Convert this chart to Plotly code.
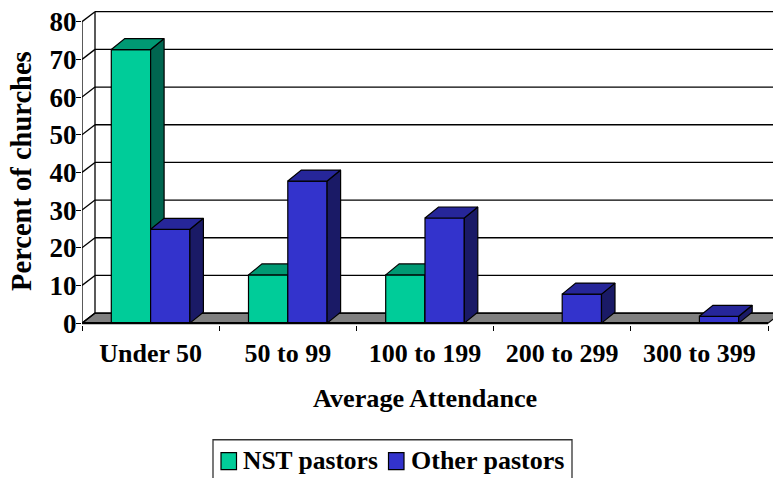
import plotly.graph_objects as go

categories = ["Under 50", "50 to 99", "100 to 199", "200 to 299", "300 to 399"]
nst_pastors = [72.6, 12.8, 12.8, 0, 0]
other_pastors = [24.9, 37.7, 27.9, 7.7, 1.8]
y_ticks = [0, 10, 20, 30, 40, 50, 60, 70, 80]

W, H = 773, 478
L, T, BOT = 82, 8, 325.2
UNIT_X, UNIT_Y = 137.2, 3.77
X_RANGE = [-0.5, -0.5 + (W - L) / UNIT_X]
Y_RANGE = [-0.5, (323.3 - T) / UNIT_Y]
WALL_DX, WALL_DY = 13 / UNIT_X, 10 / UNIT_Y
BAR_DX, BAR_DY = 13.5 / UNIT_X, 11 / UNIT_Y
BAR_W = 39.3 / UNIT_X
FONT = dict(family="Liberation Serif", color="black", weight=700)
GREEN, GREEN_SIDE, GREEN_TOP = "#00CC99", "#006650", "#009973"
BLUE, BLUE_SIDE, BLUE_TOP = "#3333CC", "#1A1A66", "#262699"


def px(x):
    return (x - L) / (W - L)


def py(y):
    return 1 - (y - T) / (BOT - T)


def faces(values, offset):
    side_x, side_y, top_x, top_y = [], [], [], []
    for i, v in enumerate(values):
        if not v:
            continue
        xl = i + offset
        xr = xl + BAR_W
        side_x += [xr, xr + BAR_DX, xr + BAR_DX, xr, xr, None]
        side_y += [0, BAR_DY, v + BAR_DY, v, 0, None]
        top_x += [xl, xl + BAR_DX, xr + BAR_DX, xr, xl, None]
        top_y += [v, v + BAR_DY, v + BAR_DY, v, v, None]
    return side_x, side_y, top_x, top_y


def add_series(fig, name, values, offset, front, side, top, xa, ya):
    idx = list(range(len(values)))
    fig.add_trace(go.Bar(x=idx, y=[v if v else None for v in values], name=name, width=BAR_W, offset=offset,
                         marker=dict(color=front, line=dict(color="black", width=1.2)),
                         xaxis=xa, yaxis=ya, showlegend=False))
    sx, sy, tx, ty = faces(values, offset)
    for fx, fy, color in ((sx, sy, side), (tx, ty, top)):
        fig.add_trace(go.Scatter(x=fx, y=fy, mode="lines", fill="toself", fillcolor=color,
                                 line=dict(color="black", width=1.2), hoverinfo="skip",
                                 xaxis=xa, yaxis=ya, showlegend=False))


fig = go.Figure()
add_series(fig, "NST pastors", nst_pastors, -BAR_W, GREEN, GREEN_SIDE, GREEN_TOP, "x", "y")
add_series(fig, "Other pastors", other_pastors, 0, BLUE, BLUE_SIDE, BLUE_TOP, "x2", "y2")

line = dict(color="black", width=1.3)
shapes = [
    dict(type="path", xref="x", yref="y", layer="below", fillcolor="#808080", line=dict(color="black", width=1.2),
         path=f"M{X_RANGE[0]},0 L{X_RANGE[0]+WALL_DX},{WALL_DY} L{4.5+WALL_DX},{WALL_DY} L4.5,0 Z"),
    dict(type="line", xref="x", yref="y", layer="below", line=line,
         x0=-0.5, x1=-0.5, y0=0, y1=80),
    dict(type="line", xref="x", yref="y", layer="below", line=line,
         x0=-0.5 + WALL_DX, x1=-0.5 + WALL_DX, y0=WALL_DY, y1=80 + WALL_DY),
]
for t in y_ticks:
    shapes.append(dict(type="line", xref="x", yref="y", layer="below", line=line,
                       x0=-0.5, x1=-0.5 + WALL_DX, y0=t, y1=t + WALL_DY))
    shapes.append(dict(type="line", xref="x", yref="y", layer="below", line=line,
                       x0=-0.5 + WALL_DX, x1=X_RANGE[1], y0=t + WALL_DY, y1=t + WALL_DY))
shapes.append(dict(type="line", xref="x", yref="y", layer="above", line=dict(color="black", width=2.2),
                   x0=-0.5, x1=4.5, y0=0, y1=0))
# legend frame and swatches
shapes.append(dict(type="rect", xref="paper", yref="paper", x0=px(213), x1=px(572), y0=py(440), y1=py(500),
                   fillcolor="white", line=dict(color="#333333", width=1.3)))
for x0, color in ((221, GREEN), (388.5, BLUE)):
    shapes.append(dict(type="rect", xref="paper", yref="paper", x0=px(x0), x1=px(x0 + 15.5), y0=py(453), y1=py(470),
                       fillcolor=color, line=dict(color="black", width=1.2)))

annotations = [
    dict(text="Average Attendance", xref="paper", yref="paper", x=px(425), y=py(399), showarrow=False,
         xanchor="center", yanchor="middle", font=dict(size=26.2, **FONT)),
    dict(text="Percent of churches", xref="paper", yref="paper", x=px(22), y=py(171), showarrow=False, textangle=-90,
         xanchor="center", yanchor="middle", font=dict(size=28.5, **FONT)),
    dict(text="NST pastors", xref="paper", yref="paper", x=px(243), y=py(461), showarrow=False,
         xanchor="left", yanchor="middle", xshift=-2, font=dict(size=25.5, **FONT)),
    dict(text="Other pastors", xref="paper", yref="paper", x=px(411), y=py(461), showarrow=False,
         xanchor="left", yanchor="middle", xshift=-2, font=dict(size=26, **FONT)),
]

fig.update_layout(
    width=W, height=H, margin=dict(l=L, r=0, t=T, b=H - BOT, pad=0),
    paper_bgcolor="white", plot_bgcolor="white", barmode="overlay", showlegend=False,
    shapes=shapes, annotations=annotations,
    xaxis=dict(range=X_RANGE, tickmode="array", tickvals=list(range(len(categories))), ticktext=categories,
               ticks="", showgrid=False, zeroline=False, showline=False, ticklabelstandoff=10,
               tickfont=dict(size=26, **FONT),
               minor=dict(tickmode="array", tickvals=[i - 0.5 for i in range(len(categories) + 1)],
                          ticks="outside", ticklen=5, tickwidth=1.3, tickcolor="black", showgrid=False)),
    yaxis=dict(range=Y_RANGE, tickmode="array", tickvals=y_ticks, ticks="outside", ticklen=5, tickwidth=1.3,
               tickcolor="black", showgrid=False, zeroline=False, showline=False, ticklabelstandoff=-6,
               tickfont=dict(size=27, **FONT)),
    xaxis2=dict(range=X_RANGE, overlaying="x", anchor="y2", visible=False),
    yaxis2=dict(range=Y_RANGE, overlaying="y", anchor="x2", visible=False),
)
fig.write_html("out.html", config={"displayModeBar": False},
               post_script="document.body.style.margin='0';document.documentElement.style.overflow='hidden';")
